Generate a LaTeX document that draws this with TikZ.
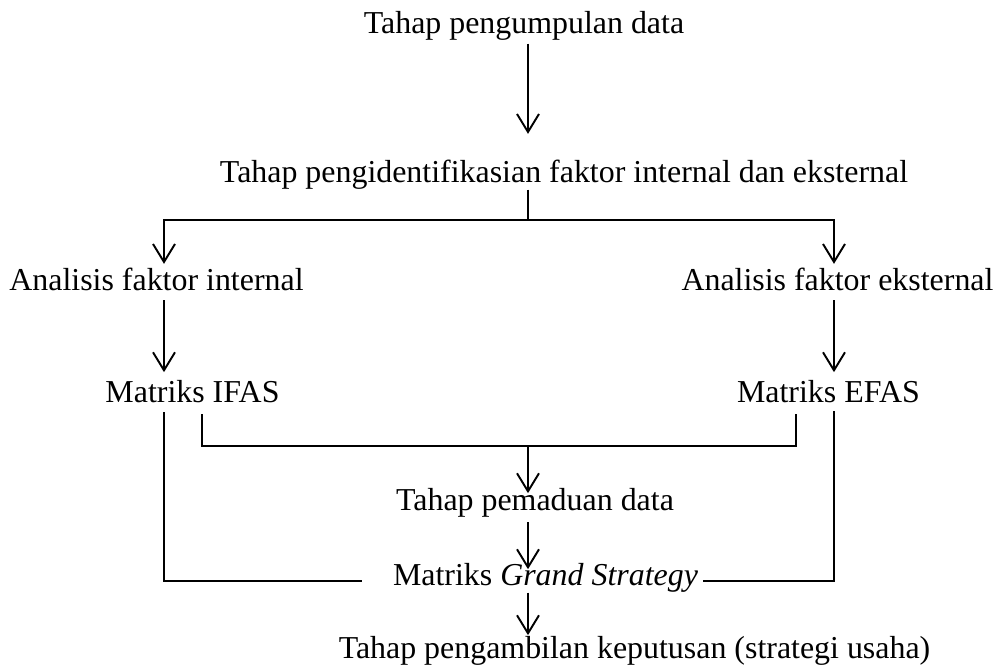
\documentclass[tikz,border=0pt]{standalone}
\usepackage{fontspec}
\setmainfont{Liberation Serif}
\usetikzlibrary{arrows.meta}

\tikzset{
  txt/.style={font=\fontsize{9.08}{11}\selectfont, inner sep=0pt, anchor=base},
  arr/.style={line width=0.55pt, -{Straight Barb[length=1.8mm,width=2.2mm]}},
  joinline/.style={line width=0.55pt},
  thinline/.style={line width=0.35pt}
}

\begin{document}
\begin{tikzpicture}
        \useasboundingbox (0,0) rectangle (9.95,6.66);

        % --- columns of the connectors ---
        \coordinate (colL) at (1.64,0);
        \coordinate (colM) at (5.28,0);
        \coordinate (colR) at (8.34,0);
        \coordinate (colIL) at (2.02,0);
        \coordinate (colIR) at (7.96,0);

        % --- stages ---
        \node[txt] (kumpul) at (5.24,6.33) {Tahap pengumpulan data};
        \node[txt] (ident) at (5.64,4.84) {Tahap pengidentifikasian faktor internal dan eksternal};
        \node[txt] (intern) at (1.565,3.76) {Analisis faktor internal};
        \node[txt] (ekstern) at (8.375,3.76) {Analisis faktor eksternal};
        \node[txt] (ifas) at (1.925,2.64) {Matriks IFAS};
        \node[txt] (efas) at (8.285,2.64) {Matriks EFAS};
        \node[txt] (padu) at (5.35,1.56) {Tahap pemaduan data};
        \node[txt] (grand) at (5.455,0.81) {Matriks \textit{Grand Strategy}};
        \node[txt] (putus) at (6.345,0.08) {Tahap pengambilan keputusan (strategi usaha)};

        % --- collecting and identifying ---
        \draw[arr, shorten <=0.03cm, shorten >=0.25cm] (kumpul.south -| colM) -- (ident.north -| colM);
        \draw[thinline] (ident.south -| colM) -- ++(0,-0.30) coordinate (split);
        \draw[arr, shorten >=0.03cm] (split) -| (intern.north -| colL);
        \draw[arr, shorten >=0.03cm] (split) -| (ekstern.north -| colR);

        % --- analysis to matrices ---
        \foreach \a/\b/\c in {intern/ifas/colL, ekstern/efas/colR}
            \draw[arr, shorten <=0.09cm, shorten >=0.07cm] (\a.south -| \c) -- (\b.north -| \c);

        % --- merging IFAS and EFAS ---
        \coordinate (merge) at (5.28,2.20);
        \draw[joinline, shorten <=0.11cm, shorten >=0.11cm] (ifas.south -| colIL) |- (merge) -| (efas.south -| colIR);
        \draw[arr, shorten >=-0.06cm] (merge) -- (padu.north -| colM);
        \draw[arr, shorten <=0.05cm, shorten >=-0.07cm] (padu.south -| colM) -- (grand.north -| colM);
        \draw[arr] (grand.south -| colM) -- (putus.north -| colM);

        % --- outer lines into Grand Strategy ---
        \draw[thinline, shorten <=0.09cm, shorten >=0.30cm] (ifas.south -| colL) |- ([yshift=0.04cm]grand.base west);
        \draw[joinline, shorten <=0.08cm, shorten >=0.04cm] (efas.south -| colR) |- ([yshift=0.04cm]grand.base east);

    \end{tikzpicture}
\end{document}
